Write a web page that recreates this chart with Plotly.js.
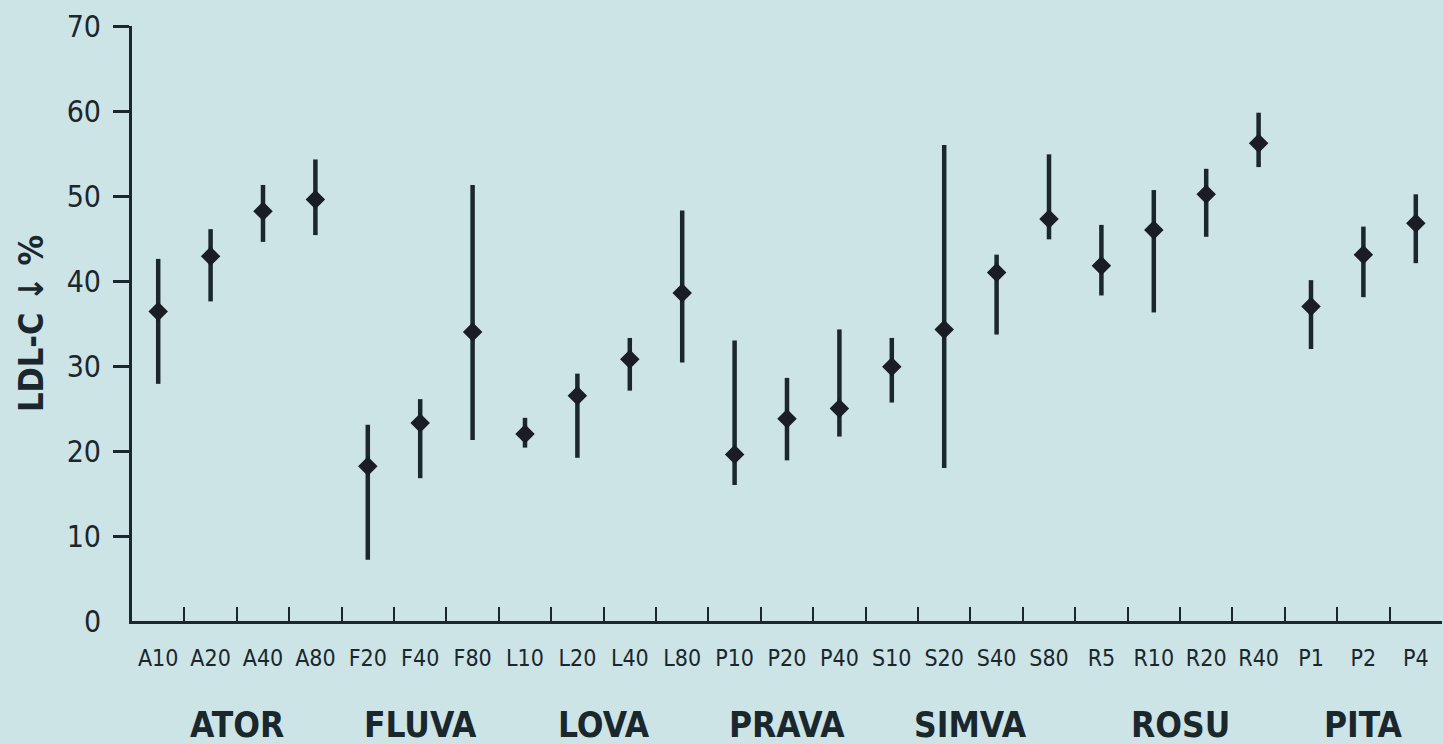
<!DOCTYPE html>
<html>
<head>
<meta charset="utf-8">
<script src="https://cdn.plot.ly/plotly-3.0.1.min.js"></script>
<style>
  html, body { margin: 0; padding: 0; background: #cde4e6; }
  #chart { width: 1443px; height: 744px; }
</style>
</head>
<body>
<div id="chart"></div>
<script>
// Dose categories (x axis)
const categories = ["A10","A20","A40","A80","F20","F40","F80","L10","L20","L40","L80",
                    "P10","P20","P40","S10","S20","S40","S80","R5","R10","R20","R40","P1","P2","P4"];
// LDL-C reduction (%) – central estimate
const meanValues = [36.4,42.9,48.2,49.6,18.2,23.3,34.0,22.0,26.5,30.8,38.6,
                    19.6,23.8,25.0,29.9,34.3,41.0,47.3,41.8,46.0,50.2,56.2,37.0,43.1,46.8];
// range upper / lower limits
const upperValues = [42.6,46.1,51.3,54.3,23.1,26.1,51.3,23.9,29.1,33.3,48.3,
                     33.0,28.6,34.3,33.3,56.0,43.1,54.9,46.6,50.7,53.2,59.8,40.1,46.4,50.2];
const lowerValues = [27.9,37.6,44.6,45.4,7.2,16.8,21.3,20.4,19.2,27.1,30.4,
                     16.0,18.9,21.7,25.7,18.0,33.7,44.9,38.3,36.3,45.2,53.4,32.0,38.1,42.1];
// Statin groups
const groupNames = ["ATOR","FLUVA","LOVA","PRAVA","SIMVA","ROSU","PITA"];
const groupSizes = [4,3,4,3,4,4,3];
// y ticks
const yTickValues = [10,20,30,40,50,60,70];

const ink = "#1a272d";
const narrow = "'Liberation Sans Narrow', 'DejaVu Sans Condensed', 'Liberation Sans', sans-serif";

const trace = {
  type: "scatter",
  mode: "markers",
  x: categories,
  y: meanValues,
  marker: { symbol: "diamond", size: 15, color: "#1b1d24", line: { width: 0 } },
  error_y: {
    type: "data",
    symmetric: false,
    array: upperValues.map((u, i) => u - meanValues[i]),
    arrayminus: meanValues.map((m, i) => m - lowerValues[i]),
    thickness: 4.5,
    width: 0,
    color: ink
  },
  hoverinfo: "x+y"
};

// group labels centred under their categories
const annotations = [];
let start = 0;
groupNames.forEach((g, k) => {
  const center = start + (groupSizes[k] - 1) / 2;
  annotations.push({
    x: center, xref: "x", y: 0, yref: "paper",
    text: g, showarrow: false, yanchor: "middle", yshift: -104,
    font: { family: narrow, size: 35, color: ink, weight: "bold" }
  });
  start += groupSizes[k];
});
// "0" label of the y axis (no tick mark at 0 in original)
annotations.push({
  x: 0, xref: "paper", y: 0, yref: "y", text: "0", showarrow: false,
  xanchor: "right", yanchor: "middle", xshift: -29,
  font: { family: narrow, size: 30, color: ink }
});

const layout = {
  width: 1443, height: 744,
  paper_bgcolor: "#cde4e6",
  plot_bgcolor: "#cde4e6",
  margin: { l: 132, r: 1, t: 26, b: 123 },
  showlegend: false,
  xaxis: {
    type: "category",
    range: [-0.5, categories.length - 0.5],
    showline: true, linecolor: ink, linewidth: 3,
    ticks: "inside", tickson: "boundaries", ticklen: 14, tickwidth: 2, tickcolor: ink,
    showgrid: false, zeroline: false,
    tickfont: { family: narrow, size: 23, color: ink },
    ticklabelstandoff: 14,
    fixedrange: true
  },
  yaxis: {
    range: [0, 70],
    tickvals: yTickValues,
    showline: true, linecolor: ink, linewidth: 3,
    ticks: "outside", ticklen: 16, tickwidth: 3, tickcolor: ink,
    showgrid: false, zeroline: false,
    tickfont: { family: narrow, size: 30, color: ink },
    ticklabelstandoff: 6,
    title: { text: "LDL-C \u2193 %", standoff: 13,
             font: { family: narrow, size: 34, color: ink, weight: "bold" } },
    fixedrange: true
  },
  annotations: annotations
};

Plotly.newPlot("chart", [trace], layout, { displayModeBar: false, staticPlot: true });
</script>
</body>
</html>
